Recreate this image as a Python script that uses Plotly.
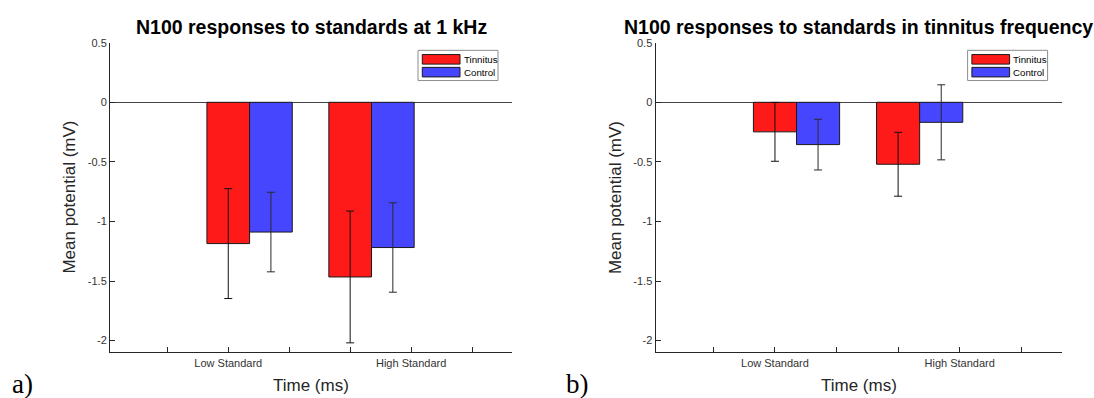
import plotly.graph_objects as go

# ---------------- data ----------------
groups = ["Low Standard", "High Standard"]
series_names = ["Tinnitus", "Control"]

tinnitus_1khz = [-1.186, -1.466]
tinnitus_1khz_err = [0.461, 0.553]
control_1khz = [-1.089, -1.219]
control_1khz_err = [0.334, 0.375]

tinnitus_tf = [-0.248, -0.520]
tinnitus_tf_err = [0.247, 0.268]
control_tf = [-0.355, -0.168]
control_tf_err = [0.213, 0.315]

y_tick_values = [-2, -1.5, -1, -0.5, 0, 0.5]
y_tick_labels = ["-2", "-1.5", "-1", "-0.5", "0", "0.5"]

titles = ["N100 responses to standards at 1 kHz",
          "N100 responses to standards in tinnitus frequency"]
panel_labels = ["a)", "b)"]

# ---------------- layout constants ----------------
W, H = 1094, 398
PANELS = [(110, 512), (655.5, 1061.6)]  # plot area x (px)
Y_TOP, Y_BOT = 37.3, 351.8
X_RANGE = [0.06, 6.655]
Y_RANGE = [-2.1, 0.5]
TICK_POS = [1, 2, 3, 4, 5, 6]
LABEL_POS = [2, 5]          # where the category labels sit
BAR_POS = [2, 4]            # tinnitus bar centres
CONTROL_SHIFT = 0.7
BAR_W = 0.7

RED = "#FF1A1A"
BLUE = "#4646FF"
AX = "#262626"
FONT = "Arial, Liberation Sans, Helvetica, sans-serif"


def px(x):
    return x / W


def py(y):
    return 1 - y / H


ticktext = []
for t in TICK_POS:
    ticktext.append(groups[LABEL_POS.index(t)] if t in LABEL_POS else "")

fig = go.Figure()

data = [
    (tinnitus_1khz, tinnitus_1khz_err, control_1khz, control_1khz_err),
    (tinnitus_tf, tinnitus_tf_err, control_tf, control_tf_err),
]

for i, (tv, te, cv, ce) in enumerate(data):
    xa = "x" if i == 0 else "x2"
    ya = "y" if i == 0 else "y2"
    fig.add_trace(go.Bar(
        x=BAR_POS, y=tv, width=BAR_W, name=series_names[0],
        marker=dict(color=RED, line=dict(color="#1a1a1a", width=1)),
        error_y=dict(type="data", array=te, visible=True, color="#111111",
                     thickness=1, width=4),
        xaxis=xa, yaxis=ya, showlegend=False,
        customdata=groups, hovertemplate="%{customdata}: %{y}<extra>Tinnitus</extra>",
    ))
    fig.add_trace(go.Bar(
        x=[p + CONTROL_SHIFT for p in BAR_POS], y=cv, width=BAR_W, name=series_names[1],
        marker=dict(color=BLUE, line=dict(color="#1a1a1a", width=1)),
        error_y=dict(type="data", array=ce, visible=True, color="#2a2a2a",
                     thickness=1, width=4),
        xaxis=xa, yaxis=ya, showlegend=False,
        customdata=groups, hovertemplate="%{customdata}: %{y}<extra>Control</extra>",
    ))

axis_common_x = dict(
    range=X_RANGE, tickmode="array", tickvals=TICK_POS, ticktext=ticktext,
    ticks="inside", ticklen=5, tickcolor=AX, tickwidth=1,
    showline=True, linecolor=AX, linewidth=1, mirror=False,
    showgrid=False, zeroline=False,
    tickfont=dict(family=FONT, size=11, color="#333333"),
)
axis_common_y = dict(
    range=Y_RANGE, tickmode="array", tickvals=y_tick_values, ticktext=y_tick_labels,
    ticks="inside", ticklen=5, tickcolor=AX, tickwidth=1,
    showline=True, linecolor=AX, linewidth=1, mirror=False,
    showgrid=False, zeroline=True, zerolinecolor="#444444", zerolinewidth=1,
    tickfont=dict(family=FONT, size=11, color="#333333"),
)

ydom = [py(Y_BOT), py(Y_TOP)]
fig.update_layout(
    width=W, height=H,
    margin=dict(l=0, r=0, t=0, b=0),
    paper_bgcolor="white", plot_bgcolor="white",
    barmode="overlay",
    xaxis=dict(domain=[px(PANELS[0][0]), px(PANELS[0][1])], anchor="y", **axis_common_x),
    yaxis=dict(domain=ydom, anchor="x", **axis_common_y),
    xaxis2=dict(domain=[px(PANELS[1][0]), px(PANELS[1][1])], anchor="y2", **axis_common_x),
    yaxis2=dict(domain=ydom, anchor="x2", **axis_common_y),
    showlegend=False,
)

annotations = []
shapes = []
for i, (x0, x1) in enumerate(PANELS):
    cx = (x0 + x1) / 2
    # title
    annotations.append(dict(
        text=titles[i], x=px(cx), y=py(21.0), xref="paper", yref="paper",
        xanchor="center", yanchor="middle", showarrow=False,
        font=dict(family=FONT, size=19.5, color="#000000", weight="bold"),
    ))
    # x title
    annotations.append(dict(
        text="Time (ms)", x=px(cx), y=py(385), xref="paper", yref="paper",
        xanchor="center", yanchor="middle", showarrow=False,
        font=dict(family=FONT, size=17, color="#262626"),
    ))
    # y title
    annotations.append(dict(
        text="Mean potential (mV)", x=px(x0 - 40), y=py((Y_TOP + Y_BOT) / 2),
        xref="paper", yref="paper", textangle=-90,
        xanchor="center", yanchor="middle", showarrow=False,
        font=dict(family=FONT, size=17, color="#262626"),
    ))
    # panel label
    annotations.append(dict(
        text=panel_labels[i], x=px(10 + i * 554), y=py(384), xref="paper", yref="paper",
        xanchor="left", yanchor="middle", showarrow=False,
        font=dict(family="Liberation Serif, Times New Roman, serif", size=27, color="#000000"),
    ))
    # legend (MATLAB style)
    lx1 = x1 - 14
    lx0 = lx1 - 80
    ly0, ly1 = 45, 75.7
    shapes.append(dict(type="rect", xref="paper", yref="paper",
                       x0=px(lx0), x1=px(lx1), y0=py(ly1), y1=py(ly0),
                       line=dict(color="#8c8c8c", width=1), fillcolor="white"))
    for j, (col, name) in enumerate(zip([RED, BLUE], series_names)):
        ry0 = 49.3 + j * 13
        shapes.append(dict(type="rect", xref="paper", yref="paper",
                           x0=px(lx0 + 4.3), x1=px(lx0 + 42), y0=py(ry0 + 9.7), y1=py(ry0),
                           line=dict(color="#1a1a1a", width=1), fillcolor=col))
        annotations.append(dict(
            text=name, x=px(lx0 + 43.5), y=py(ry0 + 5), xref="paper", yref="paper",
            xanchor="left", yanchor="middle", showarrow=False,
            font=dict(family=FONT, size=9.7, color="#000000"),
        ))

fig.update_layout(annotations=annotations, shapes=shapes)

fig.write_html("out.html")
